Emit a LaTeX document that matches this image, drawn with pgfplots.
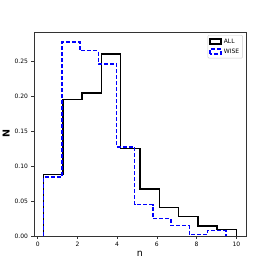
\documentclass[border=0pt]{standalone}
\usepackage{fontspec}
\setmainfont{DejaVu Sans}
\usepackage{pgfplots}
\pgfplotsset{compat=1.18}
\begin{document}
\begin{tikzpicture}
\useasboundingbox (-34pt,-30pt) rectangle (240pt,236pt);
\begin{axis}[
  at={(0,0)}, anchor=south west,
  scale only axis, width=212pt, height=204pt,
  xmin=-0.185, xmax=10.485, ymin=0, ymax=0.2915,
  xtick={0,2,4,6,8,10},
  ytick={0,0.05,0.1,0.15,0.2,0.25},
  yticklabel style={/pgf/number format/.cd,fixed,fixed zerofill,precision=2},
  /pgf/number format/assume math mode=true,
  tick label style={font=\fontsize{6}{7}\selectfont},
  tick align=outside, tick pos=left,
  major tick length=2.5pt,
  axis line style={black!80, line width=0.6pt},
  every tick/.style={black!80, line width=0.5pt},
  xlabel={n}, ylabel={\textbf{N}},
  label style={font=\fontsize{9.5}{10}\selectfont},
  xlabel style={yshift=2pt},
  ylabel style={yshift=-2pt},
  legend style={font=\fontsize{6}{7}\selectfont, draw=black!20, rounded corners=1pt, inner sep=1.5pt, row sep=0pt, at={(0.985,0.985)}, anchor=north east},
  legend cell align=left,
  legend image code/.code={\draw[#1, sharp corners] (0pt,-2.5pt) rectangle (11pt,2.5pt);},
]
\addplot[const plot, black, line width=1.5pt] coordinates {
 (0.3,0) (0.3,0.088) (1.27,0.195) (2.24,0.204) (3.21,0.260) (4.18,0.125)
 (5.15,0.067) (6.12,0.041) (7.09,0.028) (8.06,0.014) (9.03,0.009) (10,0)
};
\addlegendentry{ALL}
\addplot[const plot, blue, line width=1.5pt, dash pattern=on 4pt off 2pt] coordinates {
 (0.3,0) (0.3,0.084) (1.217,0.277) (2.134,0.265) (3.051,0.246) (3.968,0.127)
 (4.885,0.045) (5.802,0.025) (6.719,0.015) (7.636,0.002) (8.553,0.0076) (9.47,0)
};
\addlegendentry{WISE}
\end{axis}
\end{tikzpicture}
\end{document}
